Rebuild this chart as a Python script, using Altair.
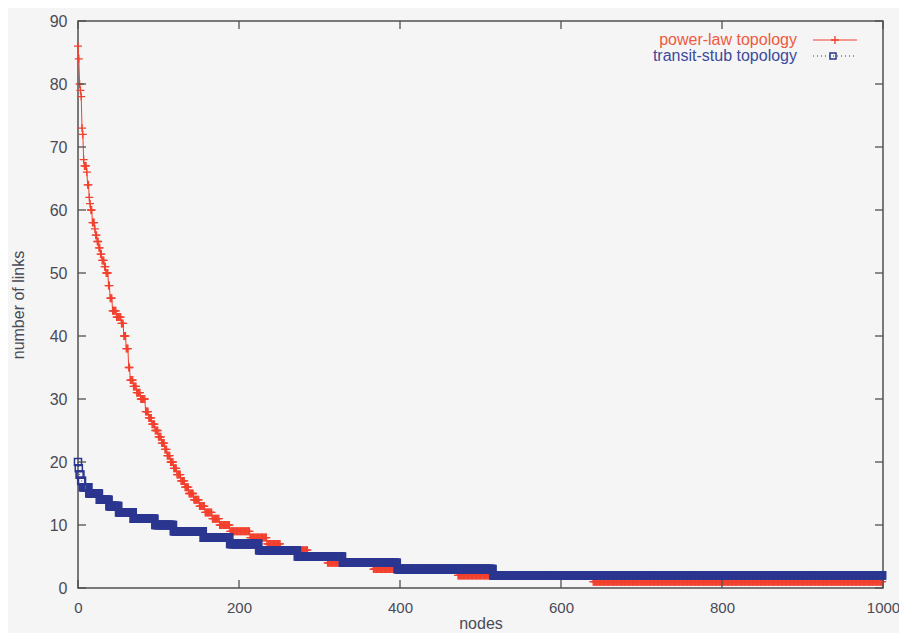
import altair as alt
import pandas as pd

# ---- data (sorted node degrees, run-length form) ----
red_levels = [86, 84, 80, 79, 78, 73, 72, 68, 67, 66, 64, 62, 61, 60, 58, 57, 56, 55, 54, 53,
              52, 51, 50, 48, 46, 44, 43, 42, 40, 38, 35, 33, 32, 31, 30, 28, 27, 26, 25, 24,
              23, 22, 21, 20, 19, 18, 17, 16, 15, 14, 13, 12, 11, 10, 9, 8, 7, 6, 5, 4, 3, 2, 1]
red_last = [0, 1, 2, 3, 4, 5, 6, 7, 10, 11, 13, 14, 15, 17, 20, 21, 23, 25, 27, 29,
            32, 34, 37, 39, 42, 47, 53, 56, 59, 62, 64, 68, 72, 77, 83, 87, 91, 95, 99, 103,
            107, 110, 114, 118, 122, 127, 132, 137, 143, 150, 157, 166, 175, 188, 213, 234, 251, 285, 309, 366,
            471, 639, 999]

blue_levels = [20, 19, 18, 17, 16, 15, 14, 13, 12, 11, 10, 9, 8, 7, 6, 5, 4, 3, 2]
blue_last = [0, 1, 3, 5, 13, 26, 38, 50, 68, 95, 118, 155, 188, 224, 272, 328, 396, 515, 999]

x_ticks = [0, 200, 400, 600, 800, 1000]
y_ticks = [0, 10, 20, 30, 40, 50, 60, 70, 80, 90]

series_names = ["power-law topology", "transit-stub topology"]
RED = "#f2402e"
BLUE = "#2b3690"
RED_TXT = "#ee5a3f"
BLUE_TXT = "#3b4a9c"
AX = "#4a4a55"


def expand(levels, lasts, name):
    rows = []
    start = 0
    for lv, last in zip(levels, lasts):
        for n in range(start, last + 1):
            rows.append({"node": n, "links": lv, "series": name})
        start = last + 1
    return rows


red_df = pd.DataFrame(expand(red_levels, red_last, series_names[0]))
blue_df = pd.DataFrame(expand(blue_levels, blue_last, series_names[1]))

W, H = 805, 567

xs = alt.Scale(domain=[0, 1000], nice=False, zero=False)
ys = alt.Scale(domain=[0, 90], nice=False, zero=False)

xaxis = alt.Axis(values=x_ticks, format="d", ticks=False, domain=False, grid=False, labelPadding=12,
                 labelFontSize=15, labelColor=AX, title="nodes", titleFontSize=16,
                 titleFontWeight="normal", titleColor=AX, titleX=W / 2, titleY=40,
                 titleAlign="center", titleBaseline="alphabetic", labelFlush=False)
yaxis = alt.Axis(values=y_ticks, format="d", ticks=False, domain=False, grid=False, labelPadding=11,
                 labelFontSize=16, labelColor=AX, title="number of links", titleFontSize=16,
                 titleFontWeight="normal", titleColor=AX, titleX=-60, titleY=H / 2,
                 titleAngle=270, titleAlign="center", titleBaseline="middle")

plus_path = "M-1,0L1,0M0,-1L0,1"

red_line = alt.Chart(red_df).mark_line(color=RED, strokeWidth=1).encode(
    x=alt.X("node:Q", scale=xs, axis=xaxis),
    y=alt.Y("links:Q", scale=ys, axis=yaxis),
    order="node:Q",
)
red_pts = alt.Chart(red_df).mark_point(shape=plus_path, color=RED, size=64, strokeWidth=1.3,
                                         filled=False, opacity=1).encode(
    x=alt.X("node:Q", scale=xs), y=alt.Y("links:Q", scale=ys))

blue_line = alt.Chart(blue_df).mark_line(color=BLUE, strokeWidth=1, strokeDash=[1, 3]).encode(
    x=alt.X("node:Q", scale=xs), y=alt.Y("links:Q", scale=ys), order="node:Q")
blue_pts = alt.Chart(blue_df).mark_point(shape="square", color=BLUE, size=50, strokeWidth=1.5,
                                           filled=False, opacity=1).encode(
    x=alt.X("node:Q", scale=xs), y=alt.Y("links:Q", scale=ys))

# inward ticks (gnuplot style), mirrored on top and right
xt = pd.DataFrame({"t": x_ticks})
yt = pd.DataFrame({"t": y_ticks})
tick_style = dict(color="#505050", strokeWidth=1.3)
tb = alt.Chart(xt).mark_rule(**tick_style).encode(
    x=alt.X("t:Q", scale=xs), y=alt.value(H), y2=alt.value(H - 8))
tt = alt.Chart(xt).mark_rule(**tick_style).encode(
    x=alt.X("t:Q", scale=xs), y=alt.value(0), y2=alt.value(8))
tl = alt.Chart(yt).mark_rule(**tick_style).encode(
    y=alt.Y("t:Q", scale=ys), x=alt.value(0), x2=alt.value(8))
tr = alt.Chart(yt).mark_rule(**tick_style).encode(
    y=alt.Y("t:Q", scale=ys), x=alt.value(W), x2=alt.value(W - 8))

# legend (gnuplot style: text right-aligned, sample on the right)
leg_df = pd.DataFrame({"name": series_names})
LX, LY1, LY2 = 719, 19, 35
leg_red_txt = alt.Chart(leg_df.iloc[[0]]).mark_text(align="right", baseline="middle", fontSize=16,
                                                     color=RED_TXT).encode(
    text="name:N", x=alt.value(LX), y=alt.value(LY1))
leg_blue_txt = alt.Chart(leg_df.iloc[[1]]).mark_text(align="right", baseline="middle", fontSize=16,
                                                      color=BLUE_TXT).encode(
    text="name:N", x=alt.value(LX), y=alt.value(LY2))
leg_red_line = alt.Chart(leg_df.iloc[[0]]).mark_rule(color=RED, strokeWidth=1).encode(
    x=alt.value(735), x2=alt.value(779), y=alt.value(LY1))
leg_red_pt = alt.Chart(leg_df.iloc[[0]]).mark_point(shape=plus_path, color=RED, size=64,
                                                     strokeWidth=1.3, opacity=1).encode(
    x=alt.value(757), y=alt.value(LY1))
leg_blue_line = alt.Chart(leg_df.iloc[[1]]).mark_rule(color=BLUE, strokeWidth=1,
                                                       strokeDash=[1, 3]).encode(
    x=alt.value(735), x2=alt.value(779), y=alt.value(LY2))
leg_blue_pt = alt.Chart(leg_df.iloc[[1]]).mark_point(shape="square", color=BLUE, size=36,
                                                      strokeWidth=1.5, opacity=1).encode(
    x=alt.value(755), y=alt.value(LY2))

chart = alt.layer(
    red_line, red_pts, blue_line, blue_pts, tb, tt, tl, tr,
    leg_red_txt, leg_blue_txt, leg_red_line, leg_red_pt, leg_blue_line, leg_blue_pt,
).properties(
    width=W, height=H,
    autosize=alt.AutoSizeParams(type="none"),
    padding={"left": 70, "top": 13, "right": 16, "bottom": 45},
    background="#f5f5f5",
).configure(font="Liberation Sans").configure_view(
    stroke="#505050", strokeWidth=1.5, fill="#f5f5f5"
)

chart.save("out.html", embed_options={"renderer": "svg", "actions": False})
